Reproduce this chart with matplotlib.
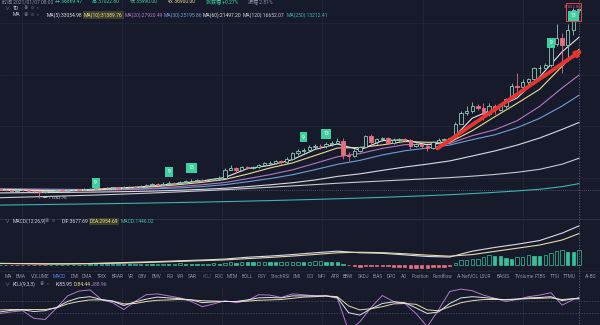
import matplotlib
matplotlib.use("Agg")
import matplotlib.pyplot as plt
from matplotlib.patches import Rectangle, FancyArrowPatch

plt.rcParams['font.family'] = ['Roboto', 'Noto Sans CJK SC', 'DejaVu Sans']

# ---------------- data ----------------
opens = [12420,12380,12310,12260,12330,12280,12200,12150,12090,12180,
         12240,12300,12260,12340,12400,12370,12450,12520,12600,12560,
         12640,12700,12650,12720,12800,12760,12850,12990,13120,13050,
         13200,13350,13280,13450,13520,13600,13700,13640,13720,13800,
         13950,15100,15300,15050,15450,15350,15400,15700,15950,16050,
         16250,16100,16600,17300,17600,17750,18200,18350,18250,18600,
         18700,19050,17150,16900,17650,18150,19650,18800,19200,19400,
         18750,19150,19300,19150,18350,18550,18250,18050,18800,19100,
         19250,19400,21350,22750,23100,23800,23450,22700,23750,23200,
         23700,24650,26400,26250,27000,27350,28850,28950,29350,32150,
         33000,32000,34000,36800]
closes = [12380,12310,12260,12330,12280,12200,12150,12090,12180,12240,
          12300,12260,12340,12400,12370,12450,12520,12600,12560,12640,
          12700,12650,12720,12800,12760,12850,12990,13120,13050,13200,
          13350,13280,13450,13520,13600,13700,13640,13720,13800,13950,
          15100,15300,15050,15450,15350,15400,15700,15950,16050,16250,
          16100,16600,17300,17600,17750,18200,18350,18250,18600,18700,
          19050,17150,16900,17650,18150,19650,18800,19200,19400,18750,
          19150,19300,19150,18350,18550,18250,18050,18800,19100,19250,
          19400,21350,22750,23100,23800,23450,22700,23750,23200,23700,
          24650,26400,26250,27000,27350,28850,28950,29350,32150,33000,
          32000,34000,36800,36900]
highs = [12520,12450,12380,12400,12420,12350,12290,12230,12260,12330,
         12390,12370,12420,12500,12480,12560,12640,12720,12680,12750,
         12820,12790,12850,12950,12900,13000,13150,13300,13250,13380,
         13550,13480,13620,13700,13780,13880,13850,13900,14000,14200,
         15300,15700,15450,15600,15600,15650,15900,16150,16300,16450,
         16400,16800,17550,17850,18050,18450,18600,18550,18900,18950,
         19350,19450,17500,17900,18350,19800,19900,19350,19550,19500,
         19400,19450,19400,19250,18700,18650,18400,18950,19400,19400,
         19550,21550,23000,23750,24250,24050,24100,24100,23950,24050,
         24800,26800,28200,27450,27500,29000,29300,29600,32300,34800,
         33600,34800,37022.80,37000]
lows = [12280,12240,12180,12200,12210,12120,11900,11262.76,11980,12110,
        12170,12190,12200,12280,12300,12310,12390,12460,12480,12500,
        12580,12570,12590,12660,12680,12700,12790,12920,12960,12980,
        13150,13180,13200,13380,13440,13510,13520,13560,13650,13700,
        13900,15000,14700,14900,15150,15200,15300,15600,15800,15900,
        15850,16000,16450,17100,17300,17600,17900,17950,18100,18300,
        18550,16500,16300,16800,17500,18050,18400,18600,18950,18550,
        18650,18900,18950,17900,18150,18000,17650,17900,18700,19000,
        19100,19300,21250,22450,22800,23150,21900,22400,22700,23050,
        23400,24500,25800,26050,26600,27200,28200,28700,29050,31900,
        28150,29900,33300,36300]

# moving averages, sampled every fourth session
ma_idx = [0,4,8,12,16,20,24,28,32,36,40,44,48,52,56,60,64,68,72,76,80,84,88,92,96,100,103]
ma5 = [12330,12312,12180,12264,12416,12604,12726,12954,13266,13582,14042,15250,15690,
       16460,17840,18590,17780,19040,19150,18470,18920,22080,23380,24840,27680,31090,33054.98]
ma10 = [12400,12340,12260,12237,12315,12484,12640,12828,13085,13391,13776,14506,15330,
        16015,17015,18040,18100,18465,18920,18815,18820,20385,22275,24100,26010,29130,31389.76]
ma20 = [12450,12420,12380,12340,12330,12359,12447,12616,12823,13059,13363,13874,14428,
        15077,15949,16850,17285,17983,18488,18553,18650,19708,20510,21743,23690,26188,27920.49]
ma30 = [12500,12480,12460,12430,12410,12420,12450,12520,12628,12811,13070,13462,13895,
        14413,15096,15825,16359,17098,17663,18040,18447,19172,19828,20802,22065,23732,25195.86]
ma60 = [11950,11980,12000,12030,12060,12100,12150,12220,12320,12440,12580,12800,13050,
        13330,13700,14190,14535,15009,15462,15853,16288,16955,17640,18436,19397,20563,21497.20]
ma120 = [11300,11380,11460,11550,11640,11740,11850,11970,12100,12240,12390,12550,12720,
         12900,13080,13260,13420,13570,13720,13870,14030,14220,14450,14750,15150,15850,16652.07]
ma250 = [10300,10340,10380,10420,10460,10500,10550,10600,10650,10710,10770,10840,10910,
         10990,11070,11160,11250,11350,11460,11580,11710,11860,12030,12220,12450,12800,13212.41]

ma_labels = ["MA(5):33054.98", "MA(10):31389.76", "MA(20):27920.49", "MA(30):25195.86",
             "MA(60):21497.20", "MA(120):16652.07", "MA(250):13212.41"]

# MACD(12,26,9), lines sampled every fourth session, histogram per session
dif = [150,130,100,110,140,200,260,320,400,470,560,730,840,980,1150,1300,1150,1100,
       950,800,750,1300,1650,1950,2300,3000,3677.69]
dea = [140,135,115,110,120,160,210,270,340,410,480,600,710,840,990,1150,1200,1160,
       1060,930,830,980,1280,1580,1880,2350,2954.69]
macd_hist = [20,10,-10,-20,-10,-30,-40,-20,-10,0,
             10,0,10,20,30,40,50,60,70,80,
             90,100,110,100,110,120,130,120,130,140,
             130,140,150,140,130,120,130,140,150,140,
             200,240,230,260,250,240,250,260,250,240,
             250,270,300,320,310,320,330,340,320,310,
             300,120,-40,-120,-150,-90,-110,-100,-80,-120,
             -160,-200,-220,-260,-250,-280,-240,-200,-180,-160,
             -120,200,450,480,520,560,780,900,880,820,
             700,600,740,760,900,880,860,900,1100,1300,
             1380,1250,1200,1446.02]

# KDJ(9,3,3), sampled every second session
kdj_idx = list(range(0, 103, 2)) + [103]
k_line = [52,56,57,53,55,63,78,87,90,83,79,68,77,84,89,87,85,82,75,77,78,78,82,87,88,
          87,92,92,92,92,88,50,44,60,73,77,75,62,48,52,73,87,90,88,85,82,84,87,88,90,
          80,85,85.95]
d_line = [57,58,58,58,58,62,72,78,82,82,79,72,73,78,81,82,83,82,80,79,78,78,79,81,82,
          83,86,89,90,92,90,67,57,60,65,72,73,71,57,55,65,75,80,83,83,83,84,85,86,87,
          83,85,84.44]
j_line = [48,52,55,36,33,61,92,104,107,83,75,58,78,95,97,92,87,78,65,72,80,75,80,95,94,
          88,97,95,92,92,86,5,27,63,93,78,73,48,15,57,103,109,105,94,86,78,83,90,94,100,
          69,83,88.96]

# TD sequential counts: session, label, price level of the marker
td_marks = [(17, "9", 13300), (30, "9", 14790), (34, "13", 15330), (54, "9", 19530),
            (58, "13", 19940), (98, "9", 32280), (102, "13", 35950)]

tab_names = ["MA","EMA","VOLUME","MACD","DMI","DMA","TRIX","BRAR","VR","OBV","EMV","RSI",
             "WR","SAR","KDJ","ROC","MTM","BOLL","PSY","StochRSI","SMI","CCI","MFI","ATR",
             "BBW","SKDJ","BIAS","DPO","AO","Position","Fundflow","AI-NetVOL","LSUR","BASIS",
             "TVolume","FTBS","TTSI","TTMU","AI-BS"]
tab_x = [5,16,31,53,71,82,97,112,128,138,152,167,177,188,203,215,227,242,258,271,293,
         307,318,331,343,358,373,387,401,412,433,457,480,497,515,535,550,563,585]

# ---------------- layout ----------------
W, H = 600, 325
BG = "#161a2b"
GRID = "#232839"
UP = "#8fcbb6"
DOWN = "#e4707f"
TEXT = "#8b90a3"
BADGE = "#3ccf9f"
N = len(closes)
STEP = 5.62                      # pixels per session
LAST_X = 579.0                   # pixel column of the last session
xl = (N - 1) - LAST_X / STEP
xr = (N - 1) + (W - LAST_X) / STEP

fig = plt.figure(figsize=(W / 100, H / 100), dpi=100, facecolor=BG)


def fax(top, bottom):
    a = fig.add_axes([0, 1 - bottom / H, 1, (bottom - top) / H])
    a.set_facecolor(BG)
    a.set_xlim(xl, xr)
    for s in a.spines.values():
        s.set_visible(False)
    a.set_xticks([])
    a.set_yticks([])
    return a


# price panel
ax = fax(0, 218)
ax.set_ylim(8550, 38107)
for gx in [22, 122, 222, 322, 423, 523]:
    ax.axvline(xl + gx / STEP, color=GRID, lw=0.5, zorder=0)
for gp in [14000, 21000, 28000, 35000]:
    ax.axhline(gp, color=GRID, lw=0.5, zorder=0)

ma_sets = [(ma250, "#3fb3ae"), (ma120, "#c9c9cf"), (ma60, "#dadbe0"), (ma30, "#6d9fd6"),
           (ma20, "#b377c6"), (ma10, "#ecdc8c"), (ma5, "#e6e6ea")]
for vals, col in ma_sets:
    ax.plot(ma_idx, vals, color=col, lw=0.8, zorder=2)

for i in range(N):
    o, c, h, l = opens[i], closes[i], highs[i], lows[i]
    up = c >= o
    col = UP if up else DOWN
    ax.vlines(i, l, h, color=col, lw=0.6, zorder=3)
    bot, top = min(o, c), max(o, c)
    ht = max(top - bot, 60)
    ax.add_patch(Rectangle((i - 0.3, bot), 0.6, ht, facecolor=BG if up else col,
                           edgecolor=col, lw=0.6, zorder=4))

for i, lab, lvl in td_marks:
    ax.text(i, lvl, lab, ha="center", va="center", fontsize=3.6, color="white", zorder=7,
            bbox=dict(boxstyle="square,pad=0.5", fc=BADGE, ec="none"))

# session high box
ax.add_patch(Rectangle((100.6, 35260), 2.8, 2440, facecolor="none", edgecolor="#e0464f",
                       lw=0.7, zorder=7))
ax.text(101.9, 37150, f"{highs[102]:.2f}", color="#f05a63", fontsize=3.0,
        ha="center", va="center", zorder=8)

# lowest price marker
lo_i = lows.index(min(lows))
ax.text(lo_i + 0.6, min(lows), f"\u2190 {min(lows):.2f}", color="#d7d9e0",
        fontsize=3.2, ha="left", va="center", zorder=6)

# trend arrow
ax.add_patch(FancyArrowPatch((77.4, 17770), (104.1, 31600), arrowstyle="-|>",
                             mutation_scale=8, lw=2.8, color="#e8342f", zorder=9))

# cursor line
ax.axhline(12350, color="#5a6078", lw=0.5, ls=(0, (1.5, 1.5)), zorder=1)

# MACD panel
ax2 = fax(219, 270)
ax2.set_ylim(-470, 4324)
for gx in [22, 122, 222, 322, 423, 523]:
    ax2.axvline(xl + gx / STEP, color=GRID, lw=0.5, zorder=0)
ax2.plot(ma_idx, dif, color="#d8dbe6", lw=0.8, zorder=3)
ax2.plot(ma_idx, dea, color="#e7d9a8", lw=0.8, zorder=3)
for i, v in enumerate(macd_hist):
    prev = macd_hist[i - 1] if i else v
    if v >= 0:
        filled = v < prev
        ax2.bar(i, v, width=0.6, color="#35c29b" if filled else BG,
                edgecolor="#35c29b", lw=0.5, zorder=2)
    else:
        ax2.bar(i, v, width=0.6, color=DOWN, edgecolor=DOWN, lw=0.5, zorder=2)

# KDJ panel
ax3 = fax(287, 325)
ax3.set_ylim(19.25, 114.25)
for gx in [22, 122, 222, 322, 423, 523]:
    ax3.axvline(xl + gx / STEP, color=GRID, lw=0.5, zorder=0)
for lv in [80, 50]:
    ax3.axhline(lv, color="#4a5068", lw=0.5, ls=(0, (2, 2)), zorder=1)
ax3.plot(kdj_idx, j_line, color="#b47ac8", lw=0.7, zorder=3)
ax3.plot(kdj_idx, d_line, color="#e8dcae", lw=0.7, zorder=3)
ax3.plot(kdj_idx, k_line, color="#e4e6ee", lw=0.7, zorder=3)

# overlay for texts, separators and the cursor line
ov = fig.add_axes([0, 0, 1, 1])
ov.set_xlim(0, W)
ov.set_ylim(H, 0)
ov.axis("off")
ov.patch.set_alpha(0)

ov.plot([0, W], [218.5, 218.5], color="#2b3045", lw=0.7)
ov.plot([0, W], [270.5, 270.5], color="#22273a", lw=0.6)
ov.plot([LAST_X, LAST_X], [0, H], color="#6b7088", lw=0.5, ls=(0, (2, 2)))

fs = 3.6
head = [("时间 2021/01/07 08:00", TEXT), ("开 36869.47", "#3ccf9f"), ("高 37022.80", "#3ccf9f"),
        ("低 35990.00", "#3ccf9f"), ("收 36900.00", "#ecdc8c"), ("涨跌幅 +0.27%", "#3ccf9f"),
        ("振幅 2.81%", TEXT)]
hx = [2, 55, 92, 130, 168, 206, 248]
for (t, c), x in zip(head, hx):
    ov.text(x, 1.5, t, color=c, fontsize=fs, va="center", ha="left")
ov.text(4, 8, "\u2228", color=TEXT, fontsize=fs, va="center")
ov.text(13, 8, "TD", color="#c9ccd8", fontsize=fs, va="center")
ov.text(24, 8, "\u25c9  \u2699  \u00d7", color="#5d6378", fontsize=fs - 0.4, va="center")

ov.text(13, 15, "MA", color="#c9ccd8", fontsize=fs, va="center")
ov.text(24, 15, "\u25c9  \u2699  \u00d7", color="#5d6378", fontsize=fs - 0.4, va="center")
lab_x = [47, 84, 125, 164, 203, 243, 287]
lab_c = ["#d9dbe3", "#ecdc8c", "#b377c6", "#6d9fd6", "#dadbe0", "#c9c9cf", "#3fb3ae"]
for x, t, c in zip(lab_x, ma_labels, lab_c):
    kw = {}
    if t.startswith("MA(10)"):
        kw["bbox"] = dict(boxstyle="square,pad=0.15", fc="#3c3e2a", ec="none")
    ov.text(x, 15, t, color=c, fontsize=fs, va="center", ha="left", **kw)

ov.text(4, 221.5, "\u2228", color=TEXT, fontsize=fs, va="center")
ov.text(13, 221.5, "MACD(12,26,9)", color="#c9ccd8", fontsize=fs, va="center")
ov.text(45, 221.5, "\u25c9  \u2699", color="#5d6378", fontsize=fs - 0.4, va="center")
ov.text(62, 221.5, f"DIF:{dif[-1]:.2f}", color="#d8dbe6", fontsize=fs, va="center")
ov.text(90, 221.5, f"DEA:{dea[-1]:.2f}", color="#ecdc8c", fontsize=fs, va="center",
        bbox=dict(boxstyle="square,pad=0.15", fc="#3c3e2a", ec="none"))
ov.text(121, 221.5, f"MACD:{macd_hist[-1]:.2f}", color="#35c29b", fontsize=fs, va="center")

for name, x in zip(tab_names, tab_x):
    col = TEXT
    if name == "MACD":
        col = "#4f86e8"
    elif name == "KDJ":
        col = "#4b5675"
    ov.text(x, 276.5, name, color=col, fontsize=3.4, va="center", ha="left")

ov.text(4, 284, "\u2228", color=TEXT, fontsize=fs, va="center")
ov.text(13, 284, "KDJ(9,3,3)", color="#c9ccd8", fontsize=fs, va="center")
ov.text(40, 284, "\u25c9  \u00d7", color="#5d6378", fontsize=fs - 0.4, va="center")
ov.text(56, 284, f"K:{k_line[-1]:.2f}", color="#d8dbe6", fontsize=fs, va="center")
ov.text(74, 284, f"D:{d_line[-1]:.2f}", color="#ecdc8c", fontsize=fs, va="center")
ov.text(91, 284, f"J:{j_line[-1]:.2f}", color="#b47ac8", fontsize=fs, va="center")

fig.savefig("out.png", dpi=100, facecolor=BG)
